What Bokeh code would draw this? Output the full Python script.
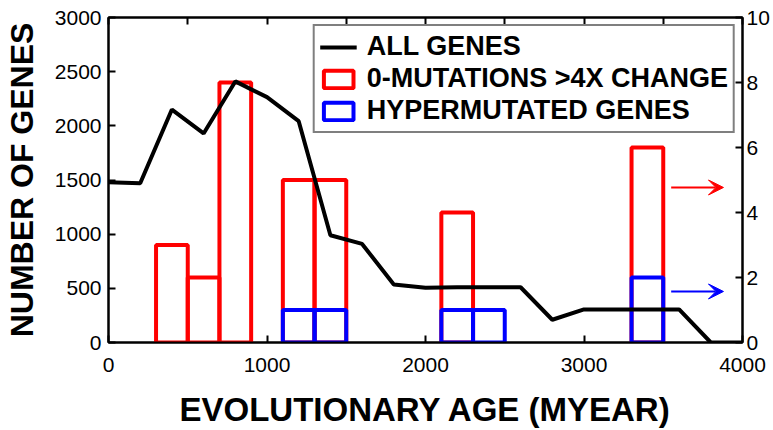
from bokeh.plotting import figure
from bokeh.models import (Range1d, LinearAxis, FixedTicker, ColumnDataSource,
                          Legend, LegendItem, Arrow, VeeHead)
from bokeh.embed import file_html
from bokeh.resources import INLINE

# ---------------- data ----------------
age = [0, 200, 400, 600, 800, 1000, 1200, 1400, 1600, 1800, 2000,
       2200, 2400, 2600, 2800, 3000, 3200, 3400, 3600, 3800, 4000]
all_genes = [1480, 1470, 2150, 1930, 2410, 2265, 2043, 990, 910, 535, 505,
             510, 510, 510, 210, 305, 305, 305, 305, 0, 0]

bin_width = 200
zero_mut_centers = [400, 600, 800, 1200, 1400, 2200, 3400]
zero_mut_counts = [3, 2, 8, 5, 5, 4, 6]
hyper_centers = [1200, 1400, 2200, 2400, 3400]
hyper_counts = [1, 1, 1, 1, 2]

bottom_ticks = [0, 1000, 2000, 3000, 4000]
top_ticks = [0, 500, 1000, 1500, 2000, 2500, 3000, 3500, 4000]
left_ticks = [0, 500, 1000, 1500, 2000, 2500, 3000]
right_ticks = [0, 2, 4, 6, 8, 10]

arrow_x_start = 3550
arrow_x_end = 3880
red_arrow_y = 4.77
blue_arrow_y = 1.57

legend_labels = ["ALL GENES", "0-MUTATIONS >4X CHANGE", "HYPERMUTATED GENES"]

FONT = "Liberation Sans"

# ---------------- figure ----------------
p = figure(width=773, height=430, x_range=Range1d(0, 4000), y_range=Range1d(0, 3000),
           output_backend="svg", toolbar_location=None,
           x_axis_location=None, y_axis_location=None,
           min_border_left=108, min_border_right=31, min_border_top=17,
           min_border_bottom=88)
p.extra_y_ranges = {"right": Range1d(0, 10)}
for g in p.grid:
    g.visible = False
p.outline_line_color = "black"
p.outline_line_width = 2
p.background_fill_color = "white"
p.border_fill_color = "white"


def style_axis(ax, ticks, standoff):
    ax.ticker = FixedTicker(ticks=ticks)
    ax.major_tick_in = 7
    ax.major_tick_out = 0
    ax.minor_tick_in = 0
    ax.minor_tick_out = 0
    ax.axis_line_width = 2
    ax.major_tick_line_width = 2
    ax.axis_line_color = "black"
    ax.major_tick_line_color = "black"
    ax.major_label_text_font = FONT
    ax.major_label_text_color = "black"
    ax.major_label_standoff = standoff
    ax.major_label_text_font_size = "21px"
    ax.axis_label_text_font = FONT
    ax.axis_label_text_font_style = "bold"
    ax.axis_label_text_font_size = "32px"
    ax.axis_label_text_color = "black"


left_ax = LinearAxis(axis_label="NUMBER OF GENES")
style_axis(left_ax, left_ticks, 7)
left_ax.axis_label_standoff = 12
p.add_layout(left_ax, "left")

bottom_ax = LinearAxis(axis_label="EVOLUTIONARY AGE (MYEAR)")
style_axis(bottom_ax, bottom_ticks, 15)
bottom_ax.axis_label_standoff = 16
bottom_ax.axis_label_text_font_size = "33px"
p.add_layout(bottom_ax, "below")

right_ax = LinearAxis(y_range_name="right")
style_axis(right_ax, right_ticks, 4)
p.add_layout(right_ax, "right")

top_ax = LinearAxis()
style_axis(top_ax, top_ticks, 0)
top_ax.major_label_overrides = {t: "" for t in top_ticks}
p.add_layout(top_ax, "above")

# ---------------- glyphs ----------------
red_src = ColumnDataSource(dict(
    left=[c - bin_width / 2 for c in zero_mut_centers],
    right=[c + bin_width / 2 for c in zero_mut_centers],
    top=zero_mut_counts,
    bottom=[0] * len(zero_mut_counts)))
blue_src = ColumnDataSource(dict(
    left=[c - bin_width / 2 for c in hyper_centers],
    right=[c + bin_width / 2 for c in hyper_centers],
    top=hyper_counts,
    bottom=[0] * len(hyper_counts)))

r_red = p.quad(left="left", right="right", top="top", bottom="bottom", source=red_src,
               y_range_name="right", fill_color=None, line_color="#ff0000", line_width=4)
r_blue = p.quad(left="left", right="right", top="top", bottom="bottom", source=blue_src,
                y_range_name="right", fill_color=None, line_color="#0000ff", line_width=4)
r_line = p.line(age, all_genes, line_color="black", line_width=4)

# arrows
for col, yv in (("#ff0000", red_arrow_y), ("#0000ff", blue_arrow_y)):
    p.add_layout(Arrow(end=VeeHead(size=15, fill_color=col, line_color=col, line_width=1),
                       x_start=arrow_x_start, x_end=arrow_x_end,
                       y_start=yv, y_end=yv,
                       y_range_name="right", line_color=col, line_width=2))

legend = Legend(items=[LegendItem(label=legend_labels[0], renderers=[r_line]),
                       LegendItem(label=legend_labels[1], renderers=[r_red]),
                       LegendItem(label=legend_labels[2], renderers=[r_blue])],
                location="top_right")
legend.margin = 7
legend.padding = 5
legend.spacing = 1
legend.glyph_width = 37
legend.glyph_height = 22
legend.label_standoff = 10
legend.label_text_font = FONT
legend.label_text_font_style = "bold"
legend.label_text_font_size = "27px"
legend.label_text_color = "black"
legend.label_height = 22
legend.border_line_color = "black"
legend.border_line_width = 2
legend.background_fill_color = "white"
legend.background_fill_alpha = 1
p.add_layout(legend)

open("out.html", "w").write(file_html(p, INLINE))
